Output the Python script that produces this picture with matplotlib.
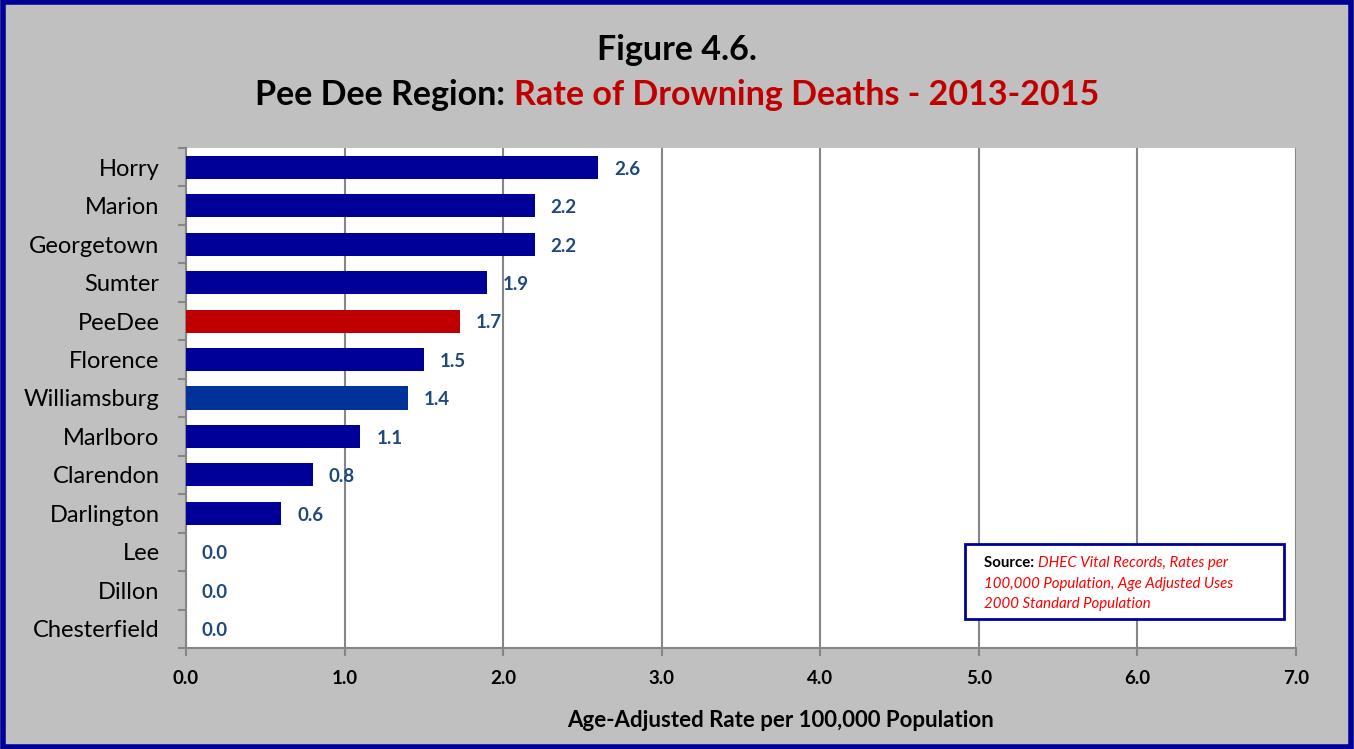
import numpy as np
import matplotlib.pyplot as plt
from matplotlib.patches import Rectangle
from matplotlib.ticker import FixedLocator

counties = ["Horry", "Marion", "Georgetown", "Sumter", "PeeDee", "Florence",
            "Williamsburg", "Marlboro", "Clarendon", "Darlington", "Lee",
            "Dillon", "Chesterfield"]
rates = [2.60, 2.20, 2.20, 1.90, 1.73, 1.50, 1.40, 1.10, 0.80, 0.60, 0.0, 0.0, 0.0]
rate_labels = ["2.6", "2.2", "2.2", "1.9", "1.7", "1.5", "1.4", "1.1", "0.8",
               "0.6", "0.0", "0.0", "0.0"]
bar_colors = ["#000099", "#000099", "#000099", "#000099", "#C00000", "#000099",
              "#003399", "#000099", "#000099", "#000099", "#000099", "#000099",
              "#000099"]
x_ticks = [0, 1, 2, 3, 4, 5, 6, 7]

plt.rcParams['font.family'] = ['Lato', 'DejaVu Sans']

W, H = 1354, 749
fig = plt.figure(figsize=(W / 100, H / 100), dpi=100)
fig.patch.set_facecolor("#C0C0C0")

# dark blue frame round the whole chart
fig.add_artist(Rectangle((0.002, 0.003), 0.996, 0.994, transform=fig.transFigure,
                         fill=False, edgecolor="#000099", linewidth=4))

ax = fig.add_axes([186 / W, 1 - 648 / H, (1296 - 186) / W, (648 - 148) / H])
ax.set_facecolor("white")

y = np.arange(len(counties))
ax.barh(y, rates, height=0.6, color=bar_colors, zorder=3)
for yi, v, lab in zip(y, rates, rate_labels):
    ax.text(v + 0.1, yi + 0.05, lab, va="center", ha="left", fontsize=13.5,
            fontweight="bold", color="#1F497D", zorder=4)

ax.set_ylim(len(counties) - 0.5, -0.5)
ax.set_xlim(0, 7)
ax.set_yticks(y)
ax.set_yticklabels(counties, fontsize=17)
ax.tick_params(axis="y", which="major", length=0, pad=19)
ax.yaxis.set_minor_locator(FixedLocator(np.arange(-0.5, len(counties), 1.0)))
ax.tick_params(axis="y", which="minor", length=6, color="#868686", width=1.5)

ax.set_xticks(x_ticks)
ax.set_xticklabels([f"{t:.1f}" for t in x_ticks], fontsize=13.5, fontweight="bold")
ax.tick_params(axis="x", length=6, color="#868686", width=1.5, pad=10)
ax.grid(axis="x", color="#868686", linewidth=1.5, zorder=0)
ax.set_axisbelow(True)
for side in ["top", "right"]:
    ax.spines[side].set_visible(False)
for side in ["left", "bottom"]:
    ax.spines[side].set_color("#868686")
    ax.spines[side].set_linewidth(1.5)

ax.set_xlabel("Age-Adjusted Rate per 100,000 Population", fontsize=16,
              fontweight="bold")
ax.xaxis.set_label_coords(0.536, -0.124)

# title
fig.text(0.5, 1 - 50 / H, "Figure 4.6.", ha="center", va="center",
         fontsize=24.5, fontweight="bold")
renderer = fig.canvas.get_renderer()
t1 = fig.text(0, 1 - 95 / H, "Pee Dee Region: ", ha="left", va="center",
              fontsize=24.5, fontweight="bold", color="black")
t2 = fig.text(0, 1 - 95 / H, "Rate of Drowning Deaths - 2013-2015", ha="left",
              va="center", fontsize=24.5, fontweight="bold", color="#C00000")
w1 = t1.get_window_extent(renderer).width / W
w2 = t2.get_window_extent(renderer).width / W
x0 = 0.5 - (w1 + w2) / 2
t1.set_x(x0)
t2.set_x(x0 + w1)

# source box
fig.add_artist(Rectangle((965 / W, 1 - 619 / H), (1284 - 965) / W, (619 - 544) / H,
                         transform=fig.transFigure, facecolor="white",
                         edgecolor="#000099", linewidth=2))
sx, sy = 984 / W, 1 - 563 / H
s1 = fig.text(sx, sy, "Source: ", fontsize=10.8, fontweight="bold", va="center")
w_s = s1.get_window_extent(renderer).width / W
fig.text(sx + w_s, sy, "DHEC Vital Records, Rates per", fontsize=10.8,
         style="italic", color="#FF0000", va="center")
fig.text(sx, 1 - 584 / H, "100,000 Population, Age Adjusted Uses", fontsize=10.8,
         style="italic", color="#FF0000", va="center")
fig.text(sx, 1 - 604 / H, "2000 Standard Population", fontsize=10.8,
         style="italic", color="#FF0000", va="center")

fig.savefig("out.png", dpi=100, facecolor=fig.get_facecolor())
